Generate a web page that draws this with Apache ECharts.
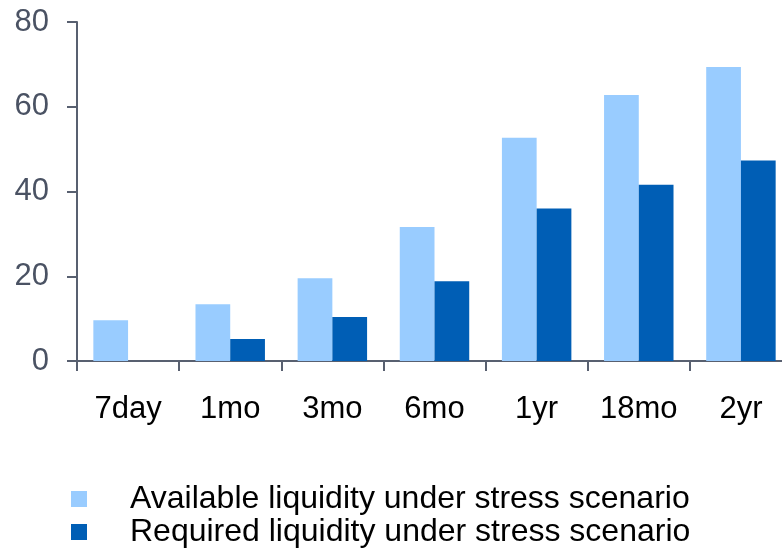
<!DOCTYPE html>
<html>
<head>
<meta charset="utf-8">
<script src="https://cdn.jsdelivr.net/npm/echarts@6/dist/echarts.min.js"></script>
<style>html,body{margin:0;padding:0;background:#fff}#c{width:782px;height:549px}</style>
</head>
<body>
<div id="c"></div>
<script>
const categories = ['7day', '1mo', '3mo', '6mo', '1yr', '18mo', '2yr'];
const availableName = 'Available liquidity under stress scenario';
const requiredName = 'Required liquidity under stress scenario';
const availableValues = [9.6, 13.4, 19.5, 31.6, 52.7, 62.8, 69.4];
const requiredValues = [null, 5.2, 10.4, 18.8, 36.0, 41.6, 47.3];
const yTicks = { min: 0, max: 80, interval: 20 };

const font = 'Liberation Sans, Arial, Helvetica, sans-serif';
const axisColor = '#586070';
const legendText = { fontFamily: font, fontSize: 32, color: '#000', padding: [0, 0, 0, 38] };
const chart = echarts.init(document.getElementById('c'), null, { renderer: 'canvas' });
chart.setOption({
  animation: false,
  backgroundColor: '#ffffff',
  grid: { left: 77, top: 22, width: 715, height: 339, containLabel: false, outerBoundsMode: 'none' },
  legend: [
    { left: 71, top: 483, padding: 0, itemWidth: 16, itemHeight: 16, icon: 'rect', textStyle: legendText, data: [availableName] },
    { left: 71, top: 516, padding: 0, itemWidth: 16, itemHeight: 16, icon: 'rect', textStyle: legendText, data: [requiredName] }
  ],
  xAxis: {
    type: 'category',
    data: categories,
    boundaryGap: true,
    axisLine: { show: true, lineStyle: { color: axisColor, width: 2 } },
    axisTick: { show: true, interval: 0, length: 10, inside: false, alignWithLabel: false, lineStyle: { color: axisColor, width: 2 } },
    axisLabel: { interval: 0, fontFamily: font, fontSize: 31, color: '#000', margin: 33 },
    splitLine: { show: false }
  },
  yAxis: {
    type: 'value',
    min: yTicks.min, max: yTicks.max, interval: yTicks.interval,
    axisLine: { show: true, lineStyle: { color: axisColor, width: 2 } },
    axisTick: { show: true, length: 10, inside: false, lineStyle: { color: axisColor, width: 2 } },
    axisLabel: { fontFamily: font, fontSize: 31, color: '#4a5263', margin: 28 },
    splitLine: { show: false }
  },
  series: [
    { name: availableName, type: 'bar', data: availableValues, barGap: '0%', barCategoryGap: '32%', itemStyle: { color: '#99CCFF' } },
    { name: requiredName, type: 'bar', data: requiredValues, barGap: '0%', barCategoryGap: '32%', itemStyle: { color: '#005EB5' } }
  ]
});
</script>
</body>
</html>
